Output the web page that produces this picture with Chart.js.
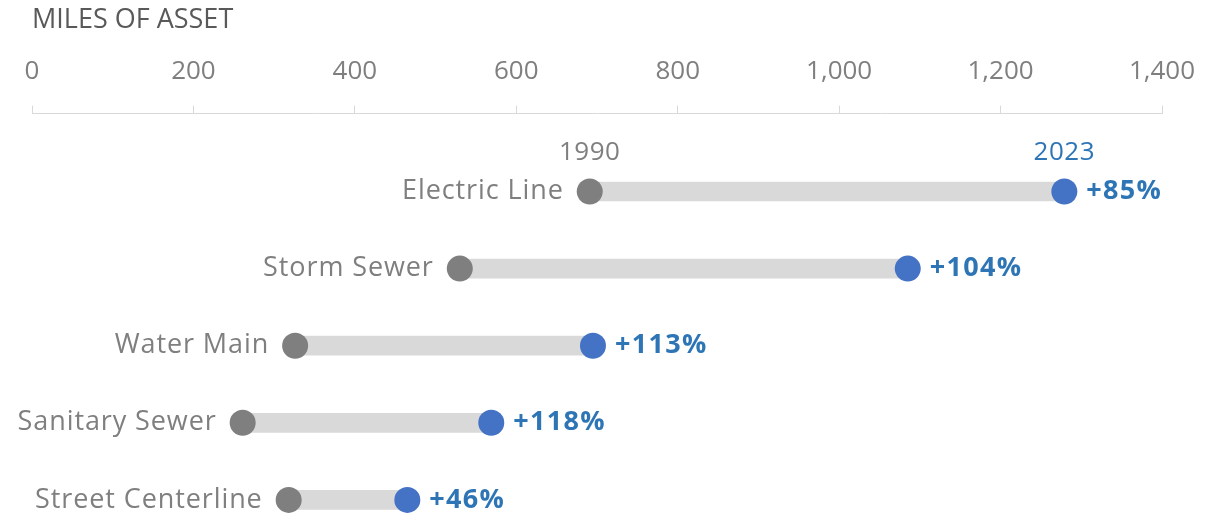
<!DOCTYPE html>
<html>
<head>
<meta charset="utf-8">
<script src="https://cdn.jsdelivr.net/npm/chart.js@4"></script>
<style>
  html, body { margin: 0; padding: 0; background: #fff; }
  #wrap { width: 1228px; height: 516px; }
</style>
</head>
<body>
<div id="wrap"><canvas id="myChart"></canvas></div>
<script>
// data
var assets = ['Electric Line', 'Storm Sewer', 'Water Main', 'Sanitary Sewer', 'Street Centerline'];
var miles1990 = [691, 530, 326, 261, 318];
var miles2023 = [1279, 1085, 695, 569, 465];
var changeLabels = ['+85%', '+104%', '+113%', '+118%', '+46%'];
var yearLabels = ['1990', '2023'];
var axisTitle = 'MILES OF ASSET';

var FONT = '"Open Sans", "Source Sans Pro", Lato, sans-serif';
var GRAY_TEXT = '#7f7f7f';
var BLUE_TEXT = '#2e75b6';

// floating bars between the two years
var barData = assets.map(function (a, i) { return { x: [miles1990[i], miles2023[i]], y: i }; });
var startPts = assets.map(function (a, i) { return { x: miles1990[i], y: i }; });
var endPts = assets.map(function (a, i) { return { x: miles2023[i], y: i }; });

// text next to the dumbbells
var labelPlugin = {
  id: 'dumbbellLabels',
  afterDatasetsDraw: function (chart) {
    var c = chart.ctx;
    var xs = chart.scales.x, ys = chart.scales.y;
    c.save();
    c.textBaseline = 'middle';
    assets.forEach(function (name, i) {
      var y = ys.getPixelForValue(i);
      c.font = '27px ' + FONT;
      c.letterSpacing = '0.9px';
      c.fillStyle = GRAY_TEXT;
      c.textAlign = 'right';
      c.fillText(name, xs.getPixelForValue(miles1990[i]) - 26, y);
      c.font = 'bold 27px ' + FONT;
      c.letterSpacing = '1.3px';
      c.fillStyle = BLUE_TEXT;
      c.textAlign = 'left';
      c.fillText(changeLabels[i], xs.getPixelForValue(miles2023[i]) + 22, y);
    });
    // year headers above first row
    var y0 = ys.getPixelForValue(0) - 39;
    c.font = '26px ' + FONT;
    c.letterSpacing = '0.5px';
    c.textAlign = 'center';
    c.fillStyle = GRAY_TEXT;
    c.fillText(yearLabels[0], xs.getPixelForValue(miles1990[0]), y0);
    c.fillStyle = BLUE_TEXT;
    c.fillText(yearLabels[1], xs.getPixelForValue(miles2023[0]), y0);
    c.restore();
  }
};

var ctx = document.getElementById('myChart').getContext('2d');
var myChart = new Chart(ctx, {
  type: 'bar',
  data: {
    datasets: [
      {
        type: 'scatter',
        label: '2023',
        data: endPts,
        pointRadius: 13,
        pointHoverRadius: 13,
        pointBackgroundColor: '#4472c4',
        pointBorderWidth: 0,
        clip: false,
        order: 1
      },
      {
        type: 'scatter',
        label: '1990',
        data: startPts,
        pointRadius: 13,
        pointHoverRadius: 13,
        pointBackgroundColor: '#7f7f7f',
        pointBorderWidth: 0,
        clip: false,
        order: 1
      },
      {
        label: 'range',
        data: barData,
        backgroundColor: '#d9d9d9',
        barThickness: 19,
        borderSkipped: false,
        clip: false,
        order: 2
      }
    ]
  },
  options: {
    indexAxis: 'y',
    responsive: true,
    maintainAspectRatio: false,
    animation: false,
    layout: { padding: { left: 32, right: 66, top: 4, bottom: 0 } },
    scales: {
      x: {
        type: 'linear',
        position: 'top',
        min: 0,
        max: 1400,
        ticks: {
          stepSize: 200,
          color: GRAY_TEXT,
          font: { family: FONT, size: 26 },
          padding: 18,
          callback: function (v) { return v.toLocaleString('en-US'); }
        },
        grid: {
          drawOnChartArea: false,
          drawTicks: true,
          tickLength: 8,
          color: '#d9d9d9'
        },
        border: { color: '#d9d9d9', width: 1 },
        title: {
          display: true,
          text: axisTitle,
          align: 'start',
          color: '#595959',
          font: { family: FONT, size: 27 },
          padding: { top: 0, bottom: 2 }
        }
      },
      y: {
        type: 'linear',
        display: false,
        offset: false,
        reverse: true,
        min: -1.01,
        max: 4.04
      }
    },
    plugins: {
      legend: { display: false },
      tooltip: { enabled: false }
    }
  },
  plugins: [labelPlugin]
});
</script>
</body>
</html>
